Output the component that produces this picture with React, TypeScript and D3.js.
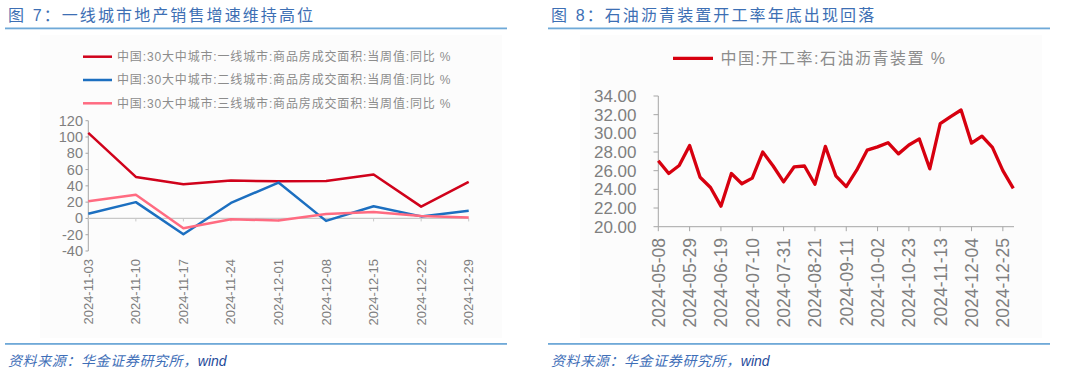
import React from 'react';
import * as d3 from 'd3';

// ---------- Left chart data ----------
const leftDates = ['2024-11-03', '2024-11-10', '2024-11-17', '2024-11-24', '2024-12-01', '2024-12-08', '2024-12-15', '2024-12-22', '2024-12-29'];
const tier1 = [105, 51, 42, 46.5, 45.5, 46, 54, 14.5, 45];
const tier2 = [5.7, 20, -19.5, 19, 44, -3, 15, 2.5, 9.5];
const tier3 = [21, 29, -12, -1, -2.5, 5.5, 8, 3, 1.2];
const leftTicks = [120, 100, 80, 60, 40, 20, 0, -20, -40];
const leftLegend = [
  '中国:30大中城市:一线城市:商品房成交面积:当周值:同比 %',
  '中国:30大中城市:二线城市:商品房成交面积:当周值:同比 %',
  '中国:30大中城市:三线城市:商品房成交面积:当周值:同比 %',
];

// ---------- Right chart data ----------
const rightDates = [
  '2024-05-08', '2024-05-15', '2024-05-22', '2024-05-29', '2024-06-05', '2024-06-12', '2024-06-19',
  '2024-06-26', '2024-07-03', '2024-07-10', '2024-07-17', '2024-07-24', '2024-07-31', '2024-08-07',
  '2024-08-14', '2024-08-21', '2024-08-28', '2024-09-04', '2024-09-11', '2024-09-18', '2024-09-25',
  '2024-10-02', '2024-10-09', '2024-10-16', '2024-10-23', '2024-10-30', '2024-11-06', '2024-11-13',
  '2024-11-20', '2024-11-27', '2024-12-04', '2024-12-11', '2024-12-18', '2024-12-25', '2025-01-01',
];
const asphaltRate = [
  27.07, 25.7, 26.55, 28.7, 25.3, 24.2, 22.2, 25.7, 24.6, 25.2, 28.0, 26.5, 24.8, 26.4, 26.5,
  24.55, 28.6, 25.45, 24.3, 26.05, 28.2, 28.55, 29.0, 27.8, 28.75, 29.4, 26.2, 31.05, 31.8, 32.5,
  28.95, 29.7, 28.5, 26.0, 24.1,
];
const rightTickLabels = ['2024-05-08', '2024-05-29', '2024-06-19', '2024-07-10', '2024-07-31', '2024-08-21', '2024-09-11', '2024-10-02', '2024-10-23', '2024-11-13', '2024-12-04', '2024-12-25'];
const rightTicks = [34, 32, 30, 28, 26, 24, 22, 20];
const rightLegend = '中国:开工率:石油沥青装置 %';

const titleLeft = '图 7：一线城市地产销售增速维持高位';
const titleRight = '图 8：石油沥青装置开工率年底出现回落';
const source = '资料来源：华金证券研究所，';

const CJK = '"Liberation Sans", "Noto Sans CJK SC", Arial, sans-serif';
const NUM = '"Liberation Sans", Arial, sans-serif';
const TITLE_BLUE = '#3d6fb4';
const RULE_BLUE = '#6fa9d8';
const AXIS = '#a6a6a6';
const LABEL = '#7f7f7f';

function Header({ x0, x1, title }: { x0: number; x1: number; title: string }) {
  return (
    <g>
      <text x={x0 + 3} y={21} fontFamily={CJK} fontSize={16} letterSpacing={2.1} fill={TITLE_BLUE}>{title}</text>
      <rect x={x0} y={27.5} width={x1 - x0} height={1.8} fill={RULE_BLUE} />
      <rect x={x0} y={343} width={x1 - x0} height={1.8} fill={RULE_BLUE} />
      <text x={x0 + 3} y={366} fontFamily={CJK} fontSize={14} fontStyle="italic" letterSpacing={0.6} fill="#3f6fb8">
        {source}
        <tspan fill="#1f4a9a" fontFamily={NUM} letterSpacing={0}>wind</tspan>
      </text>
    </g>
  );
}

function LeftChart() {
  const x = d3.scalePoint<string>().domain(leftDates).range([88.3, 468.7]).padding(0);
  const y = d3.scaleLinear().domain([-40, 120]).range([251, 120.7]);
  const line = d3.line<number>().x((_, i) => x(leftDates[i]) as number).y((d) => y(d));
  const series = [
    { data: tier1, color: '#d0021b' },
    { data: tier2, color: '#1c6fc0' },
    { data: tier3, color: '#ff6b81' },
  ];
  return (
    <g>
      <rect x={40} y={35} width={462} height={303} fill="#fcfcfc" />
      {/* legend */}
      {leftLegend.map((t, i) => (
        <g key={i}>
          <line x1={83} x2={112} y1={56.7 + i * 23.3} y2={56.7 + i * 23.3} stroke={series[i].color} strokeWidth={2.5} />
          <text x={117} y={56.7 + i * 23.3 + 4.3} fontFamily={CJK} fontSize={12} letterSpacing={0.85} fill="#8c8c8c">{t}</text>
        </g>
      ))}
      {/* y axis */}
      <line x1={88.3} x2={88.3} y1={y(120)} y2={y(-40)} stroke={AXIS} strokeWidth={1} />
      {leftTicks.map((t) => (
        <g key={t}>
          <line x1={85.5} x2={88.3} y1={y(t)} y2={y(t)} stroke={AXIS} />
          <text x={83} y={y(t) + 5} textAnchor="end" fontFamily={NUM} fontSize={14.5} fill={LABEL}>{t}</text>
        </g>
      ))}
      {/* zero axis */}
      <line x1={88.3} x2={468.7} y1={y(0)} y2={y(0)} stroke="#c8c8c8" strokeWidth={1.2} />
      {leftDates.map((d) => (
        <g key={d}>
          <line x1={x(d)} x2={x(d)} y1={y(0)} y2={y(0) + 3} stroke="#c8c8c8" />
          <text
            transform={`translate(${(x(d) as number) + 4.5},${259}) rotate(-90)`}
            textAnchor="end"
            fontFamily={NUM}
            fontSize={13}
            fill={LABEL}
          >
            {d}
          </text>
        </g>
      ))}
      {series.map((s, i) => (
        <path key={i} d={line(s.data) as string} fill="none" stroke={s.color} strokeWidth={2.5} strokeLinejoin="round" />
      ))}
    </g>
  );
}

function RightChart() {
  const x = d3.scalePoint<string>().domain(rightDates).range([658.3, 1013.3]).padding(0);
  const y = d3.scaleLinear().domain([20, 34]).range([226.7, 96]);
  const line = d3.line<number>().x((_, i) => x(rightDates[i]) as number).y((d) => y(d));
  return (
    <g>
      <rect x={580} y={35} width={462} height={303} fill="#fcfcfc" />
      <line x1={673} x2={713} y1={58.3} y2={58.3} stroke="#d7000f" strokeWidth={3.2} />
      <text x={720.5} y={64} fontFamily={CJK} fontSize={16} letterSpacing={1.5} fill="#8c8c8c">{rightLegend}</text>
      <line x1={658.3} x2={658.3} y1={y(34)} y2={y(20)} stroke={AXIS} />
      {rightTicks.map((t) => (
        <g key={t}>
          <line x1={653.5} x2={658.3} y1={y(t)} y2={y(t)} stroke={AXIS} />
          <text x={636.5} y={y(t) + 6} textAnchor="end" fontFamily={NUM} fontSize={17} fill={LABEL}>{t.toFixed(2)}</text>
        </g>
      ))}
      <line x1={658.3} x2={1014} y1={y(20)} y2={y(20)} stroke={AXIS} />
      {rightTickLabels.map((d) => (
        <g key={d}>
          <line x1={x(d)} x2={x(d)} y1={y(20)} y2={y(20) + 4.5} stroke={AXIS} />
          <text
            transform={`translate(${(x(d) as number) + 6.3},${238}) rotate(-90)`}
            textAnchor="end"
            fontFamily={NUM}
            fontSize={17.5}
            fill={LABEL}
          >
            {d}
          </text>
        </g>
      ))}
      <path d={line(asphaltRate) as string} fill="none" stroke="#d7000f" strokeWidth={3.3} strokeLinejoin="round" />
    </g>
  );
}

export default function App() {
  return (
    <svg width={1080} height={377} style={{ position: 'absolute', left: 0, top: 0, background: '#fff' }}>
      <rect width={1080} height={377} fill="#fff" />
      <Header x0={5} x1={507} title={titleLeft} />
      <Header x0={548} x1={1050} title={titleRight} />
      <LeftChart />
      <RightChart />
    </svg>
  );
}
